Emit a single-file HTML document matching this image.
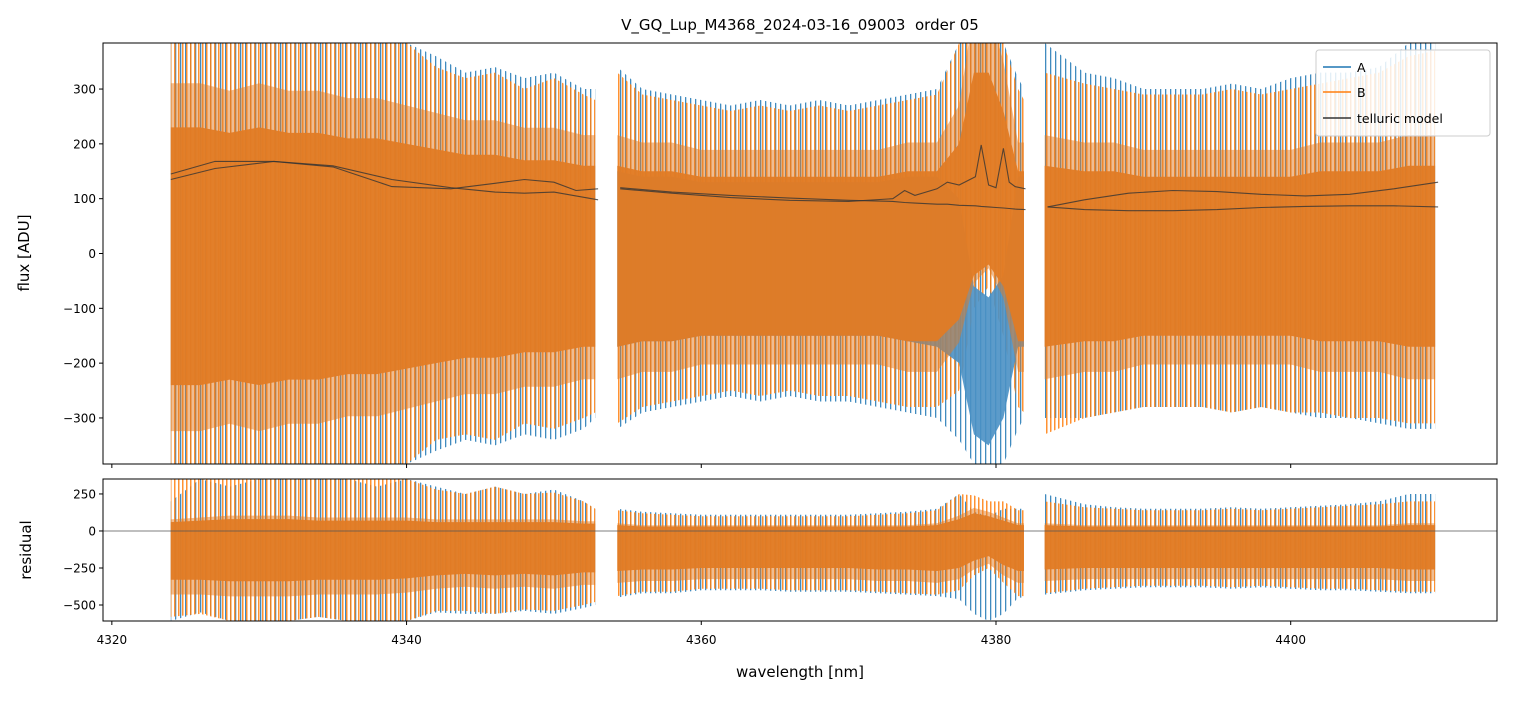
<!DOCTYPE html>
<html><head><meta charset="utf-8"><style>
body{margin:0;background:#fff;font-family:"Liberation Sans","DejaVu Sans",sans-serif}
svg text{font-family:"DejaVu Sans","Liberation Sans",sans-serif}
</style></head><body>
<svg id="chart" width="1513" height="696" viewBox="0 0 1513 696" xmlns="http://www.w3.org/2000/svg">
<defs>
<clipPath id="clipTop"><rect x="103" y="43" width="1394" height="421"/></clipPath>
<clipPath id="clipBot"><rect x="103" y="479" width="1394" height="142"/></clipPath>
<pattern id="patA" patternUnits="userSpaceOnUse" width="5" height="10">
<rect x="0" y="0" width="1.3" height="10" fill="#1f77b4" fill-opacity="0.85"/>
</pattern>
<pattern id="patB" patternUnits="userSpaceOnUse" width="4" height="10">
<rect x="2" y="0" width="1.5" height="10" fill="#ff7f0e" fill-opacity="0.85"/>
</pattern>
</defs>
<rect width="1513" height="696" fill="#fff"/>
<text x="800" y="30" font-size="15" text-anchor="middle" style="white-space:pre">V_GQ_Lup_M4368_2024-03-16_09003  order 05</text>
<g id="gtop" clip-path="url(#clipTop)"></g>
<g id="gbot" clip-path="url(#clipBot)"></g>
<rect x="103" y="43" width="1394" height="421" fill="none" stroke="#000" stroke-width="1"/>
<rect x="103" y="479" width="1394" height="142" fill="none" stroke="#000" stroke-width="1"/>
<g id="axes"></g>
<text transform="translate(29,253) rotate(-90)" font-size="15" text-anchor="middle">flux [ADU]</text>
<text transform="translate(31,550) rotate(-90)" font-size="15" text-anchor="middle">residual</text>
<text x="800" y="677" font-size="15" text-anchor="middle">wavelength [nm]</text>
<g>
<rect x="1316" y="50" width="174" height="86" rx="3" fill="#fff" fill-opacity="0.85" stroke="#ccc"/>
<line x1="1323" y1="67" x2="1351" y2="67" stroke="#1f77b4" stroke-width="1.5"/>
<text x="1357" y="72" font-size="12.5">A</text>
<line x1="1323" y1="92" x2="1351" y2="92" stroke="#ff7f0e" stroke-width="1.5"/>
<text x="1357" y="97" font-size="12.5">B</text>
<line x1="1323" y1="118" x2="1351" y2="118" stroke="#333" stroke-width="1.5"/>
<text x="1357" y="123" font-size="12.5">telluric model</text>
</g>
</svg>
<script>
// ---- data ----
const xTicks=[4320,4340,4360,4380,4400];
const yTicksTop=[300,200,100,0,-100,-200,-300];
const yTicksBot=[250,0,-250,-500];
const seg1X=[4324,4326,4328,4330,4332,4334,4336,4338,4340,4342,4344,4346,4348,4350,4352,4352.8];
const seg2X=[4354.3,4356,4358,4360,4362,4364,4366,4368,4370,4372,4374,4376,4377.5,4378.5,4379.5,4380.5,4381.5,4381.9];
const seg3X=[4383.3,4386,4388,4390,4392,4394,4396,4398,4400,4402,4404,4406,4408,4409.8];
const aOutHi1=[384,384,384,384,384,384,384,384,384,360,330,340,320,330,300,300];
const aOutLo1=[-384,-384,-384,-384,-384,-384,-384,-384,-384,-360,-340,-350,-330,-340,-320,-300];
const bOutHi1=[384,384,384,384,384,384,384,384,384,340,320,330,300,320,290,280];
const bOutLo1=[-384,-384,-384,-384,-384,-384,-384,-384,-384,-340,-330,-340,-310,-320,-300,-290];
const bInHi1=[230,230,220,230,220,220,210,210,200,190,180,180,170,170,160,160];
const bInLo1=[-240,-240,-230,-240,-230,-230,-220,-220,-210,-200,-190,-190,-180,-180,-170,-170];
const aOutHi2=[340,300,290,280,270,280,270,280,270,280,290,300,384,384,384,384,320,300];
const aOutLo2=[-320,-290,-280,-270,-260,-270,-260,-270,-270,-280,-290,-300,-340,-384,-384,-384,-320,-300];
const bOutHi2=[330,290,280,270,260,270,260,270,260,270,280,290,384,384,384,384,300,280];
const bOutLo2=[-310,-280,-270,-260,-250,-260,-250,-260,-260,-270,-280,-280,-250,-100,-60,-150,-280,-290];
const bInHi2=[160,150,150,140,140,140,140,140,140,140,150,150,200,330,330,260,150,150];
const bInLo2=[-170,-160,-160,-150,-150,-150,-150,-150,-150,-150,-160,-160,-120,-40,-20,-60,-160,-160];
const aInHi2=[150,140,140,130,130,130,130,130,130,130,140,140,100,-60,-80,-40,140,140];
const aInLo2=[-170,-160,-160,-150,-150,-150,-150,-150,-150,-150,-160,-170,-200,-330,-350,-300,-170,-170];
const aOutHi3=[384,330,320,300,300,300,310,300,320,330,330,340,384,384];
const aOutLo3=[-300,-300,-290,-280,-280,-280,-290,-280,-290,-300,-300,-310,-320,-320];
const bOutHi3=[330,310,300,290,290,290,300,290,300,310,320,330,360,370];
const bOutLo3=[-330,-300,-290,-280,-280,-280,-290,-280,-290,-290,-300,-300,-310,-310];
const bInHi3=[160,150,150,140,140,140,140,140,140,150,150,150,160,160];
const bInLo3=[-170,-160,-160,-150,-150,-150,-150,-150,-150,-160,-160,-160,-170,-170];
const tel1X=[4324,4327,4331,4335,4339,4343,4346,4348,4350,4351.5,4353];
const tel1A=[135,155,168,158,122,118,128,135,130,115,118];
const tel1B=[145,168,168,160,135,120,112,110,112,105,98];
const tel2X=[4354.5,4358,4362,4366,4370,4373,4373.8,4374.5,4376,4376.7,4377.5,4378.6,4379,4379.5,4380,4380.5,4380.9,4381.3,4382];
const tel2A=[118,110,102,97,95,100,115,106,118,130,125,140,198,125,120,192,130,122,118];
const tel2B=[120,112,106,101,97,95,93,92,90,90,88,87,86,85,84,83,82,81,80];
const tel3X=[4383.5,4386,4389,4392,4395,4398,4401,4404,4407,4410];
const tel3A=[85,98,110,115,113,108,105,108,118,130];
const tel3B=[85,80,78,78,80,84,86,87,87,85];
const rAOutHi1=[200,351,300,351,351,351,351,300,351,300,250,300,250,280,200,150];
const rAOutLo1=[-608,-550,-608,-608,-608,-580,-608,-608,-608,-550,-560,-560,-540,-560,-520,-500];
const rBOutHi1=[351,351,351,351,351,351,351,351,351,280,250,300,250,260,200,150];
const rBOutLo1=[-580,-560,-608,-608,-608,-580,-608,-608,-608,-540,-540,-560,-530,-540,-500,-480];
const rBInHi1=[60,70,80,80,80,70,70,70,70,60,60,60,60,60,50,50];
const rBInLo1=[-330,-330,-340,-340,-340,-330,-330,-330,-320,-300,-290,-300,-290,-300,-280,-280];
const rAOutHi2=[150,130,120,110,110,110,110,110,110,120,130,150,250,130,100,150,150,150];
const rAOutLo2=[-450,-420,-420,-400,-400,-400,-410,-410,-410,-420,-430,-440,-460,-560,-608,-560,-450,-450];
const rBOutHi2=[140,120,110,100,100,100,100,100,100,110,120,140,250,240,200,200,140,140];
const rBOutLo2=[-440,-410,-410,-390,-390,-390,-400,-400,-400,-410,-420,-430,-400,-300,-250,-350,-440,-440];
const rBInHi2=[40,30,30,30,30,30,30,30,30,30,30,40,80,120,100,70,40,40];
const rBInLo2=[-270,-260,-260,-250,-250,-250,-250,-250,-250,-260,-260,-270,-250,-200,-170,-230,-270,-270];
const rAOutHi3=[250,180,160,150,150,150,160,150,160,170,180,200,250,250];
const rAOutLo3=[-430,-400,-390,-380,-380,-380,-390,-380,-390,-400,-400,-410,-420,-420];
const rBOutHi3=[200,160,150,140,140,140,150,140,150,160,170,180,200,200];
const rBOutLo3=[-420,-390,-380,-370,-370,-370,-380,-370,-380,-390,-390,-400,-410,-410];
const rBInHi3=[40,30,30,30,30,30,30,30,30,30,30,30,40,40];
const rBInLo3=[-260,-250,-250,-250,-250,-250,-250,-250,-250,-250,-250,-250,-260,-260];

// ---- scales ----
const X0=4319.4,X1=4414.0,PX0=103,PX1=1497;
const xs=v=>PX0+(v-X0)/(X1-X0)*(PX1-PX0);
const yTop=v=>43+(384-v)/768*421;
const yBot=v=>479+(351-v)/(351+608)*142;
const NS='http://www.w3.org/2000/svg';
const gTop=document.getElementById('gtop'),gBot=document.getElementById('gbot'),axesG=document.getElementById('axes');
function band(g,xa,hi,lo,ys,color,op,name){
  let d='M'+xa.map((x,i)=>xs(x).toFixed(1)+','+ys(hi[i]).toFixed(1)).join('L');
  for(let i=xa.length-1;i>=0;i--) d+='L'+xs(xa[i]).toFixed(1)+','+ys(lo[i]).toFixed(1);
  const p=document.createElementNS(NS,'path');
  p.setAttribute('d',d+'Z');p.setAttribute('fill',color);p.setAttribute('fill-opacity',op);
  
  
  g.appendChild(p);
}
function line(g,xa,ya,ys,color,name){
  const p=document.createElementNS(NS,'polyline');
  p.setAttribute('points',xa.map((x,i)=>xs(x).toFixed(1)+','+ys(ya[i]).toFixed(1)).join(' '));
  p.setAttribute('fill','none');p.setAttribute('stroke',color);p.setAttribute('stroke-width','1.1');p.setAttribute('stroke-opacity','0.8');
  
  
  g.appendChild(p);
}
const sc=(a,k)=>a.map(v=>v*k);
const PA='url(#patA)',PB='url(#patB)',OI='#e07b25';
band(gTop,seg1X,aOutHi1,aOutLo1,yTop,PA,1,'series-a-seg1');
band(gTop,seg1X,bOutHi1,bOutLo1,yTop,PB,1,'series-b-seg1-spikes');
band(gTop,seg1X,sc(bInHi1,1.35),sc(bInLo1,1.35),yTop,OI,0.5,'series-b-seg1-halo');
band(gTop,seg1X,bInHi1,bInLo1,yTop,OI,0.95,'series-b-seg1');
band(gTop,seg2X,aOutHi2,aOutLo2,yTop,PA,1,'series-a-seg2');
band(gTop,seg2X,bOutHi2,bOutLo2,yTop,PB,1,'series-b-seg2-spikes');
band(gTop,seg2X,aInHi2,aInLo2,yTop,'#4a90c4',0.9,'series-a-seg2-dense');
band(gTop,seg2X,sc(bInHi2,1.35),sc(bInLo2,1.35),yTop,OI,0.5,'series-b-seg2-halo');
band(gTop,seg2X,bInHi2,bInLo2,yTop,OI,0.95,'series-b-seg2');
band(gTop,seg3X,aOutHi3,aOutLo3,yTop,PA,1,'series-a-seg3');
band(gTop,seg3X,bOutHi3,bOutLo3,yTop,PB,1,'series-b-seg3-spikes');
band(gTop,seg3X,sc(bInHi3,1.35),sc(bInLo3,1.35),yTop,OI,0.5,'series-b-seg3-halo');
band(gTop,seg3X,bInHi3,bInLo3,yTop,OI,0.95,'series-b-seg3');
line(gTop,tel1X,tel1A,yTop,'#333','telluric-a-seg1');line(gTop,tel1X,tel1B,yTop,'#333','telluric-b-seg1');
line(gTop,tel2X,tel2A,yTop,'#333','telluric-a-seg2');line(gTop,tel2X,tel2B,yTop,'#333','telluric-b-seg2');
line(gTop,tel3X,tel3A,yTop,'#333','telluric-a-seg3');line(gTop,tel3X,tel3B,yTop,'#333','telluric-b-seg3');
band(gBot,seg1X,rAOutHi1,rAOutLo1,yBot,PA,1,'residual-a-seg1');
band(gBot,seg1X,rBOutHi1,rBOutLo1,yBot,PB,1,'residual-b-seg1-spikes');
band(gBot,seg1X,sc(rBInHi1,1.3),sc(rBInLo1,1.3),yBot,OI,0.5,'residual-b-seg1-halo');
band(gBot,seg1X,rBInHi1,rBInLo1,yBot,OI,0.95,'residual-b-seg1');
band(gBot,seg2X,rAOutHi2,rAOutLo2,yBot,PA,1,'residual-a-seg2');
band(gBot,seg2X,rBOutHi2,rBOutLo2,yBot,PB,1,'residual-b-seg2-spikes');
band(gBot,seg2X,sc(rBInHi2,1.3),sc(rBInLo2,1.3),yBot,OI,0.5,'residual-b-seg2-halo');
band(gBot,seg2X,rBInHi2,rBInLo2,yBot,OI,0.95,'residual-b-seg2');
band(gBot,seg3X,rAOutHi3,rAOutLo3,yBot,PA,1,'residual-a-seg3');
band(gBot,seg3X,rBOutHi3,rBOutLo3,yBot,PB,1,'residual-b-seg3-spikes');
band(gBot,seg3X,sc(rBInHi3,1.3),sc(rBInLo3,1.3),yBot,OI,0.5,'residual-b-seg3-halo');
band(gBot,seg3X,rBInHi3,rBInLo3,yBot,OI,0.95,'residual-b-seg3');
const zl=document.createElementNS(NS,'line');
zl.setAttribute('x1',PX0);zl.setAttribute('x2',PX1);zl.setAttribute('y1',yBot(0));zl.setAttribute('y2',yBot(0));
zl.setAttribute('stroke','#555');zl.setAttribute('stroke-width','0.7');


gBot.appendChild(zl);
function mk(tag,attrs,txt){const e=document.createElementNS(NS,tag);for(const k in attrs)e.setAttribute(k,attrs[k]);if(txt!==undefined)e.textContent=txt;axesG.appendChild(e);return e;}
xTicks.forEach(v=>{
  const x=xs(v);
  const t1=mk('line',{x1:x,x2:x,y1:464,y2:468,stroke:'#000'});
  
  
  const t2=mk('line',{x1:x,x2:x,y1:621,y2:625,stroke:'#000'});
  
  
  const l=mk('text',{x:x,y:644,'font-size':12,'text-anchor':'middle'},String(v));
  
  
});
yTicksTop.forEach(v=>{
  const y=yTop(v);
  const t=mk('line',{x1:99,x2:103,y1:y,y2:y,stroke:'#000'});
  
  
  const l=mk('text',{x:96,y:y+4.5,'font-size':12,'text-anchor':'end'},v<0?'\u2212'+(-v):String(v));
  
  
});
yTicksBot.forEach(v=>{
  const y=yBot(v);
  const t=mk('line',{x1:99,x2:103,y1:y,y2:y,stroke:'#000'});
  
  
  const l=mk('text',{x:96,y:y+4.5,'font-size':12,'text-anchor':'end'},v<0?'\u2212'+(-v):String(v));
  
  
});
</script>
</body></html>
